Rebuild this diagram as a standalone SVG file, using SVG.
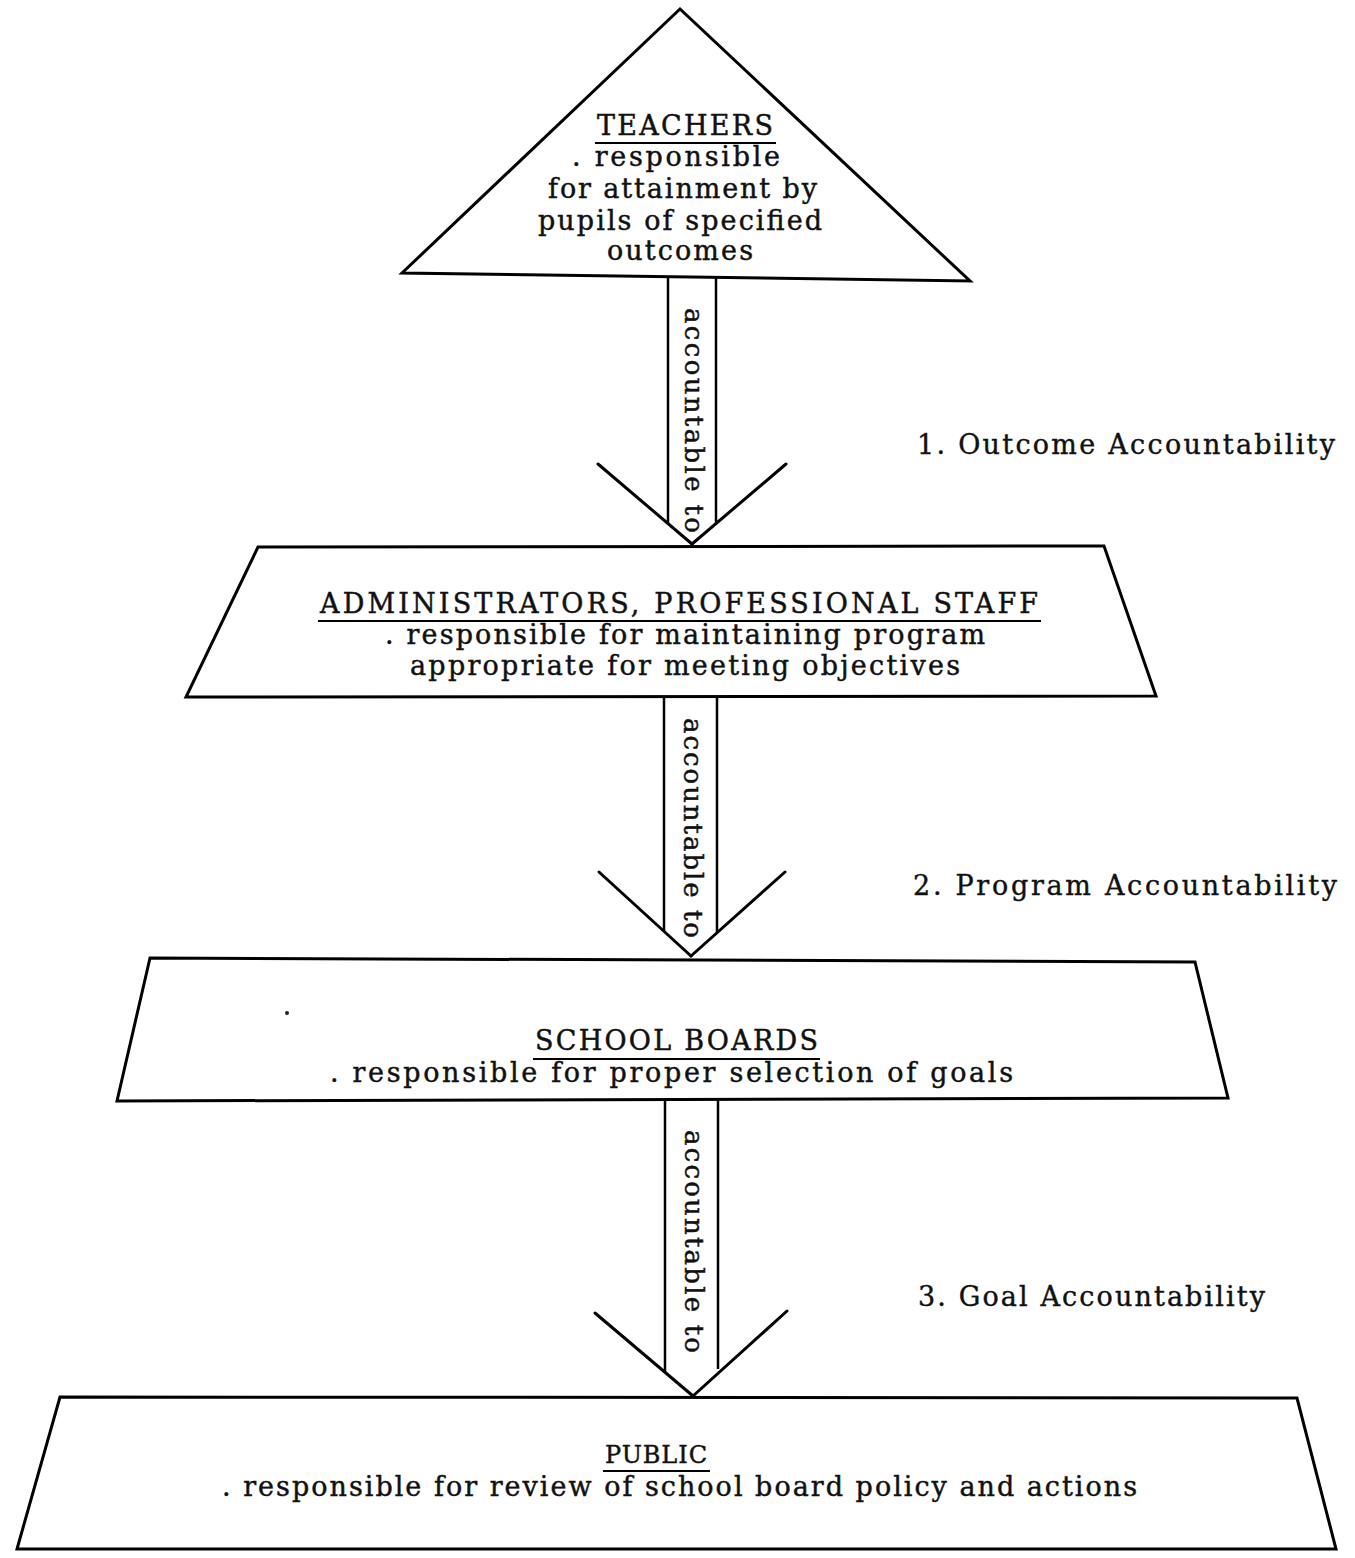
<svg xmlns="http://www.w3.org/2000/svg" width="1355" height="1558" viewBox="0 0 1355 1558">
<style>
.shape{fill:#fff;stroke:#000;stroke-width:3;stroke-linejoin:miter}
.t{font-family:"DejaVu Serif","Liberation Serif",serif;font-size:27px;fill:#111;stroke:#111;stroke-width:0.45}
.v{font-family:"DejaVu Serif","Liberation Serif",serif;font-size:26px;fill:#111;stroke:#111;stroke-width:0.45}
.lbl{font-family:"DejaVu Serif","Liberation Serif",serif;font-size:27px;fill:#111;stroke:#111;stroke-width:0.4}
.ul{stroke:#000;stroke-width:2}
.shaft{stroke:#000;stroke-width:2.5}
.arm{stroke:#000;stroke-width:3;stroke-linecap:round}
.speck{fill:#222}
</style>
<rect width="1355" height="1558" fill="#fff"/>

<g id="connectors">
  <g id="arrow-1">
    <line class="shaft" x1="668" y1="277" x2="668" y2="523"/>
    <line class="shaft" x1="716" y1="278" x2="716" y2="523"/>
    <line class="arm" x1="598" y1="464" x2="692" y2="544"/>
    <line class="arm" x1="786" y1="464" x2="692" y2="544"/>
    <text class="v" transform="translate(685,308) rotate(90)" textLength="225" lengthAdjust="spacing">accountable to</text>
  </g>
  <g id="arrow-2">
    <line class="shaft" x1="664" y1="696" x2="664" y2="931"/>
    <line class="shaft" x1="717" y1="696" x2="717" y2="932"/>
    <line class="arm" x1="599" y1="872" x2="691" y2="956"/>
    <line class="arm" x1="785" y1="872" x2="691" y2="956"/>
    <text class="v" transform="translate(684,718) rotate(90)" textLength="220" lengthAdjust="spacing">accountable to</text>
  </g>
  <g id="arrow-3">
    <line class="shaft" x1="665" y1="1099" x2="665" y2="1372"/>
    <line class="shaft" x1="718" y1="1099" x2="718" y2="1369"/>
    <line class="arm" x1="595" y1="1313" x2="693" y2="1396"/>
    <line class="arm" x1="787" y1="1311" x2="693" y2="1396"/>
    <text class="v" transform="translate(685,1130) rotate(90)" textLength="223" lengthAdjust="spacing">accountable to</text>
  </g>
</g>

<g id="teachers">
  <polygon class="shape" points="680,9 402,273 970,281"/>
  <text class="t" x="597" y="135" textLength="176" lengthAdjust="spacing">TEACHERS</text>
  <line class="ul" x1="595" y1="143" x2="776" y2="143"/>
  <text class="t" x="572" y="166" textLength="208" lengthAdjust="spacing">. responsible</text>
  <text class="t" x="548" y="198" textLength="269" lengthAdjust="spacing">for attainment by</text>
  <text class="t" x="538" y="230" textLength="284" lengthAdjust="spacing">pupils of specified</text>
  <text class="t" x="607" y="260" textLength="146" lengthAdjust="spacing">outcomes</text>
</g>

<g id="administrators">
  <polygon class="shape" points="258,547 1104,546 1156,696 186,697"/>
  <text class="t" x="320" y="613" textLength="718" lengthAdjust="spacing">ADMINISTRATORS,  PROFESSIONAL STAFF</text>
  <line class="ul" x1="318" y1="621" x2="1041" y2="621"/>
  <text class="t" x="385" y="644" textLength="600" lengthAdjust="spacing">. responsible for maintaining program</text>
  <text class="t" x="410" y="675" textLength="550" lengthAdjust="spacing">appropriate for meeting objectives</text>
</g>

<g id="school-boards">
  <polygon class="shape" points="150,958 1195,962 1228,1098 117,1101"/>
  <text class="t" x="535" y="1050" textLength="283" lengthAdjust="spacing">SCHOOL BOARDS</text>
  <line class="ul" x1="533" y1="1059" x2="820" y2="1059"/>
  <text class="t" x="330" y="1082" textLength="683" lengthAdjust="spacing">. responsible for proper selection of goals</text>
  <circle class="speck" cx="287" cy="1013" r="2"/>
</g>

<g id="public">
  <polygon class="shape" points="60,1397 1297,1398 1336,1549 17,1549"/>
  <text class="t" x="605" y="1463" style="font-size:24px" textLength="102" lengthAdjust="spacing">PUBLIC</text>
  <line class="ul" x1="603" y1="1471" x2="710" y2="1471"/>
  <text class="t" x="222" y="1496" textLength="915" lengthAdjust="spacing">. responsible for review of school board policy and actions</text>
</g>

<g id="levels">
  <text class="lbl" x="917" y="454" textLength="418" lengthAdjust="spacing">1.  Outcome Accountability</text>
  <text class="lbl" x="913" y="895" textLength="424" lengthAdjust="spacing">2.  Program Accountability</text>
  <text class="lbl" x="918" y="1306" textLength="347" lengthAdjust="spacing">3.  Goal Accountability</text>
</g>
</svg>
